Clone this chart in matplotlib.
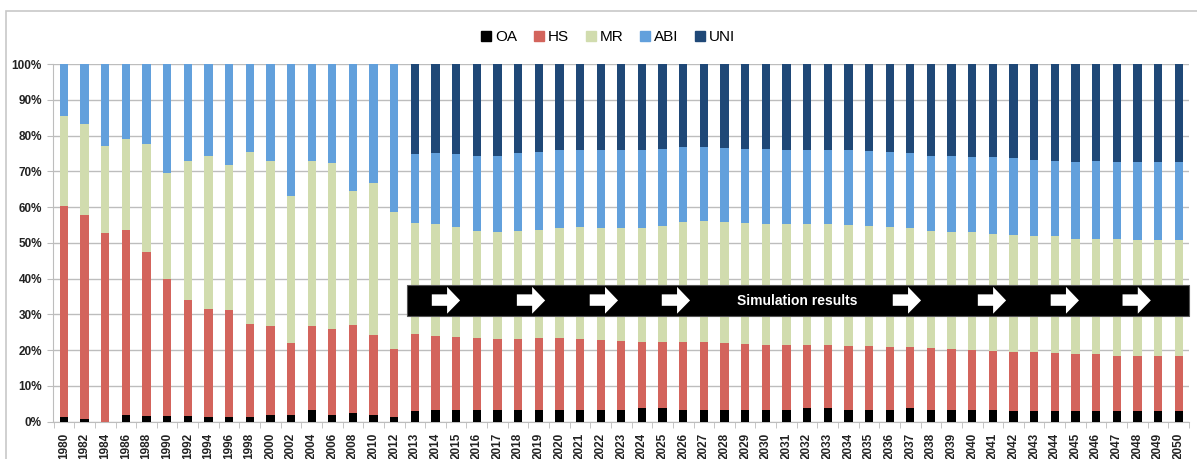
import numpy as np
import matplotlib
matplotlib.use("Agg")
import matplotlib.pyplot as plt
from matplotlib.patches import Rectangle, Polygon
from matplotlib.lines import Line2D

plt.rcParams["font.family"] = ["Liberation Sans", "DejaVu Sans"]

# ---- data: shares in % ----
years = [str(y) for y in range(1980, 2013, 2)] + [str(y) for y in range(2013, 2051)]

# historical (1980-2012, every 2 years) + simulated (2013-2050)
oa = [1.2, 0.8, 0.0, 2.0, 1.5, 1.5, 1.5, 1.2, 1.2, 1.2, 1.8, 1.8, 3.2, 1.8, 2.5, 2.0, 1.2,
      3.0, 3.2, 3.2, 3.2, 3.2, 3.2, 3.4, 3.4, 3.4, 3.4, 3.4, 3.8, 3.8, 3.4, 3.4, 3.4, 3.4,
      3.4, 3.4, 3.8, 3.8, 3.4, 3.4, 3.4, 3.8, 3.4, 3.4, 3.4, 3.4, 3.1, 3.1, 3.1, 3.1, 3.1,
      3.1, 3.1, 3.1, 3.1]
# cumulative tops of each layer
hs_top = [60.3, 57.8, 52.8, 53.6, 47.4, 39.8, 34.0, 31.6, 31.3, 27.2, 26.7, 22.0, 26.7,
          26.0, 27.0, 24.2, 20.2,
          24.4, 24.0, 23.8, 23.5, 23.2, 23.2, 23.5, 23.5, 23.2, 22.9, 22.6, 22.3, 22.3,
          22.3, 22.3, 22.1, 21.8, 21.5, 21.5, 21.5, 21.5, 21.1, 21.1, 20.8, 20.8, 20.6,
          20.3, 20.0, 19.7, 19.4, 19.4, 19.2, 18.9, 18.9, 18.5, 18.5, 18.5, 18.5]
mr_top = [85.6, 83.3, 77.2, 79.0, 77.7, 69.5, 73.0, 74.4, 71.8, 75.4, 72.8, 63.1, 72.8,
          72.3, 64.5, 66.6, 58.7,
          55.6, 55.3, 54.5, 53.4, 53.1, 53.4, 53.7, 54.1, 54.4, 54.1, 54.2, 54.2, 54.6,
          55.8, 56.1, 55.8, 55.5, 55.3, 55.3, 55.3, 55.3, 55.0, 54.6, 54.4, 54.1, 53.4,
          53.1, 52.9, 52.6, 52.1, 51.8, 51.8, 51.1, 51.1, 51.1, 50.9, 50.8, 50.7]
abi_top = [100.0] * 17 + [
          74.7, 75.0, 74.7, 74.4, 74.4, 75.0, 75.4, 76.0, 76.0, 76.0, 76.0, 76.0, 76.3,
          76.8, 76.8, 76.4, 76.2, 76.2, 76.0, 76.0, 76.0, 76.0, 75.7, 75.4, 75.0, 74.4,
          74.2, 73.9, 73.9, 73.6, 73.3, 73.0, 72.7, 73.0, 72.7, 72.7, 72.7, 72.7]

oa = np.array(oa)
hs = np.array(hs_top) - oa
mr = np.array(mr_top) - np.array(hs_top)
abi = np.array(abi_top) - np.array(mr_top)
uni = 100.0 - np.array(abi_top)

labels = ["OA", "HS", "MR", "ABI", "UNI"]
colors = ["#000000", "#d3645c", "#d1dcae", "#62a0dc", "#1f4877"]

# banner arrows (start x in bar-index units)
arrow_x = [17.82, 21.94, 25.47, 28.96, 40.15, 44.27, 47.80, 51.28]

W, H = 1197, 459
fig = plt.figure(figsize=(W / 100, H / 100), dpi=100)
ax = fig.add_axes([53 / W, 1 - 421.7 / H, (1189 - 53) / W, (421.7 - 64) / H])

x = np.arange(len(years))
bottom = np.zeros(len(years))
for vals, lab, col in zip([oa, hs, mr, abi, uni], labels, colors):
    ax.bar(x, vals, bottom=bottom, width=0.4, color=col, label=lab, zorder=3)
    bottom += vals

ax.set_xlim(-0.53, 54.5)
ax.set_ylim(0, 100)
ax.set_yticks(range(0, 101, 10))
ax.set_yticklabels([f"{v}%" for v in range(0, 101, 10)], fontsize=8.5, fontweight="bold",
                   color="#222222")
ax.yaxis.grid(True, color="#bdbdbd", linewidth=1.0, zorder=0)
ax.set_xticks(x)
ax.set_xticklabels(years, rotation=90, fontsize=8.5, fontweight="bold", color="#222222")
ax.tick_params(axis="x", length=0, pad=8)
ax.set_xticks(np.arange(-0.5, len(years), 1), minor=True)
ax.tick_params(axis="x", which="minor", length=4, color="#bdbdbd")
ax.tick_params(axis="y", length=4, color="#bdbdbd", pad=4)
for s in ["top", "right"]:
    ax.spines[s].set_visible(False)
for s in ["left", "bottom"]:
    ax.spines[s].set_color("#bdbdbd")

# simulation banner
ax.add_patch(Rectangle((16.6, 29.6), 54.5 - 16.6, 8.5, facecolor="black",
                       edgecolor="#555555", linewidth=0.8, zorder=5, clip_on=False))
ax.text(35.5, 33.8, "Simulation results", color="white", fontsize=10, fontweight="bold",
        ha="center", va="center", zorder=6)
for ax0 in arrow_x:
    pts = [(ax0, 32.4), (ax0 + 0.74, 32.4), (ax0 + 0.74, 30.2), (ax0 + 1.37, 33.9),
           (ax0 + 0.74, 37.7), (ax0 + 0.74, 35.6), (ax0, 35.6)]
    ax.add_patch(Polygon(pts, closed=True, facecolor="white", edgecolor="none", zorder=6))

# legend
handles = [Line2D([], [], marker="s", linestyle="", markersize=7.5, color=c) for c in colors]
fig.legend(handles, labels, loc="center", bbox_to_anchor=(607 / W, 1 - 37 / H), ncol=5,
           frameon=False, fontsize=11, handletextpad=0.1, columnspacing=0.9,
           handlelength=1.0)

# chart-area border
fig.add_artist(Rectangle((6 / W, -0.1), 1.2, 1 - 11 / H + 0.1, transform=fig.transFigure,
                         facecolor="none", edgecolor="#c8c8c8", linewidth=1.2))

fig.savefig("out.png", dpi=100)
